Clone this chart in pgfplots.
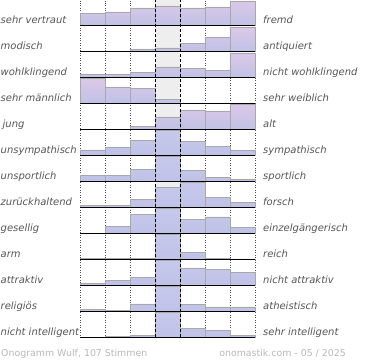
\documentclass[border=0pt]{standalone}
\usepackage{pgfplots}
\pgfplotsset{compat=1.18}
\usepackage{fontspec}
\setmainfont{DejaVu Sans}
\definecolor{lbl}{HTML}{555555}
\definecolor{foot}{HTML}{B8B8B8}
\definecolor{midbg}{HTML}{EEEEEE}
\definecolor{pinktop}{HTML}{DCC8E8}
\definecolor{bluebot}{HTML}{BFC2E6}
\definecolor{bluetop}{HTML}{C6C9EC}
\definecolor{baredge}{HTML}{A8A8A8}

\pgfplotsset{
  rowstyle/.style={
    width=175bp, height=25bp, scale only axis,
    anchor=south west,
    xmin=0, xmax=7, ymin=0, ymax=25,
    axis lines=none, ticks=none, clip=false,
  },
  pinkbar/.style={ybar, bar width=1, draw=baredge, line width=0.5bp, top color=pinktop, bottom color=bluebot},
  bluebar/.style={ybar, bar width=1, draw=baredge, line width=0.5bp, top color=bluetop, bottom color=bluebot},
}

\newcommand{\onorow}[5]{%
  \begin{axis}[rowstyle, at={(80bp,{335bp-26bp*(#1-1)})}]
    \addplot[#5] coordinates {#4};
    \draw[black, line width=1.3bp] (axis cs:0,0) -- (axis cs:7,0);
  \end{axis}
  \node[anchor=base west, inner sep=0pt, text=lbl, font=\fontsize{10bp}{12bp}\selectfont\itshape] at (0.5bp,{337bp-26bp*(#1-1)}) {#2};
  \node[anchor=base west, inner sep=0pt, text=lbl, font=\fontsize{10bp}{12bp}\selectfont\itshape] at (263bp,{337bp-26bp*(#1-1)}) {#3};
}

\begin{document}
\begin{tikzpicture}
  \path (0,0) rectangle (370bp,360bp);
  \fill[midbg] (155bp,23bp) rectangle (180bp,360bp);
  \foreach \x in {80,105,130,205,230,255} {
    \draw[black!70, line width=0.5bp, dotted] (\x bp,23bp) -- (\x bp,360bp);
  }

  \onorow{1}{sehr vertraut}{fremd}{(0.5,12.3) (1.5,13.7) (2.5,17.7) (3.5,19.7) (4.5,17.7) (5.5,18.7) (6.5,24.5)}{pinkbar}
  \onorow{2}{modisch}{antiquiert}{(0.5,0) (1.5,0) (2.5,2.7) (3.5,3.7) (4.5,8.3) (5.5,14.3) (6.5,24.5)}{pinkbar}
  \onorow{3}{wohlklingend}{nicht wohlklingend}{(0.5,3) (1.5,3) (2.5,5.3) (3.5,10.7) (4.5,9) (5.5,7.3) (6.5,24.5)}{pinkbar}
  \onorow{4}{sehr männlich}{sehr weiblich}{(0.5,25) (1.5,16.7) (2.5,15.3) (3.5,4.3) (4.5,0) (5.5,0) (6.5,0)}{pinkbar}
  \onorow{5}{\hspace{2bp}jung}{alt}{(0.5,0) (1.5,0) (2.5,3.3) (3.5,12.7) (4.5,19.7) (5.5,18.7) (6.5,25)}{pinkbar}
  \onorow{6}{unsympathisch}{sympathisch}{(0.5,5.7) (1.5,8.7) (2.5,15.3) (3.5,25) (4.5,14.3) (5.5,9.3) (6.5,5.3)}{bluebar}
  \onorow{7}{unsportlich}{sportlich}{(0.5,6.3) (1.5,6.3) (2.5,12.3) (3.5,25) (4.5,11.3) (5.5,4) (6.5,2)}{bluebar}
  \onorow{8}{zurückhaltend}{forsch}{(0.5,2) (1.5,2) (2.5,8.3) (3.5,20.3) (4.5,25) (5.5,10.3) (6.5,5.3)}{bluebar}
  \onorow{9}{gesellig}{einzelgängerisch}{(0.5,0) (1.5,7.3) (2.5,19.3) (3.5,25) (4.5,14.3) (5.5,16.7) (6.5,6.3)}{bluebar}
  \onorow{10}{arm}{reich}{(0.5,1) (1.5,1) (2.5,1) (3.5,25) (4.5,7.3) (5.5,1) (6.5,0.5)}{bluebar}
  \onorow{11}{attraktiv}{nicht attraktiv}{(0.5,2) (1.5,5.3) (2.5,8.3) (3.5,25) (4.5,17.7) (5.5,16.3) (6.5,13.3)}{bluebar}
  \onorow{12}{religiös}{atheistisch}{(0.5,2.3) (1.5,1.3) (2.5,7.7) (3.5,25) (4.5,7.3) (5.5,4.7) (6.5,4.7)}{bluebar}
  \onorow{13}{nicht intelligent}{sehr intelligent}{(0.5,0) (1.5,1) (2.5,2) (3.5,25) (4.5,9) (5.5,7.3) (6.5,2)}{bluebar}

  \foreach \x in {155,180} {
    \draw[black, line width=1bp, dash pattern=on 3bp off 2bp] (\x bp,23bp) -- (\x bp,360bp);
  }
  \node[anchor=base west, inner sep=0pt, text=foot, font=\fontsize{9.4bp}{11bp}\selectfont] at (1bp,4bp) {Onogramm Wulf, 107 Stimmen};
  \node[anchor=base east, inner sep=0pt, text=foot, font=\fontsize{9.4bp}{11bp}\selectfont] at (346bp,4bp) {onomastik.com - 05 / 2025};
\end{tikzpicture}
\end{document}
